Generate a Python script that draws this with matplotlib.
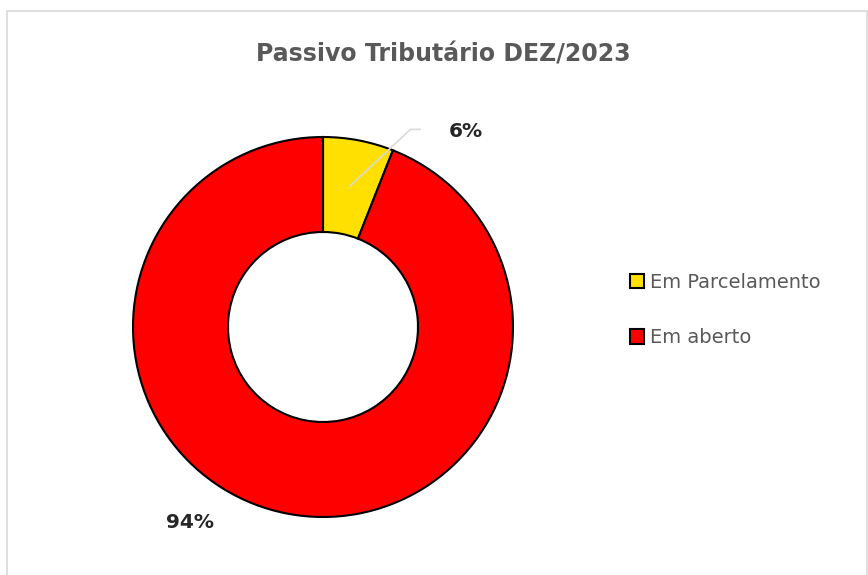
import matplotlib.pyplot as plt
from matplotlib.patches import Rectangle

# dados do grafico
categorias = ['Em Parcelamento', 'Em aberto']
valores = [6, 94]
rotulos = ['6%', '94%']
cores = ['#FFE000', '#FF0000']

W, H = 868, 575
fig = plt.figure(figsize=(W / 100, H / 100), dpi=100)
fig.patch.set_facecolor('white')

# moldura cinza do grafico
fig.patches.append(Rectangle((7 / W, -0.01), (860 / W), (H - 11) / H + 0.01,
                             transform=fig.transFigure, fill=False,
                             edgecolor='#D9D9D9', linewidth=1.2))

# eixo da rosca
cx, cy, r = 323, H - 327, 190
lado = 2.1 * r
ax = fig.add_axes([(cx - lado / 2) / W, (cy - lado / 2) / H, lado / W, lado / H])

fatias, _ = ax.pie(valores, colors=cores, startangle=90, counterclock=False,
                   radius=1, wedgeprops=dict(width=0.5, edgecolor='black', linewidth=1.5))
ax.set_xlim(-1.05, 1.05)
ax.set_ylim(-1.05, 1.05)
ax.set_aspect('equal')
ax.axis('off')

# rotulos de dados
ax.plot([0.14, 0.46, 0.51], [0.74, 1.04, 1.04], color='#D9D9D9', lw=1.2, zorder=5,
        clip_on=False)
ax.text(0.75, 1.03, rotulos[0], ha='center', va='center', fontsize=14.5,
        fontweight='bold', color='#262626', clip_on=False)
ax.text(-0.70, -1.03, rotulos[1], ha='center', va='center', fontsize=14.5,
        fontweight='bold', color='#262626', clip_on=False)

# titulo
fig.text(443 / W, 1 - 55 / H, 'Passivo Tributário DEZ/2023', ha='center', va='center',
         fontsize=17, fontweight='bold', color='#595959')

# legenda
fig.legend(fatias, categorias, loc='center left', bbox_to_anchor=(612 / W, 1 - 310 / H),
           frameon=False, fontsize=14, labelcolor='#595959', handlelength=0.75,
           handleheight=0.75, handletextpad=0.3, labelspacing=1.87)

plt.savefig('out.png', dpi=100)
